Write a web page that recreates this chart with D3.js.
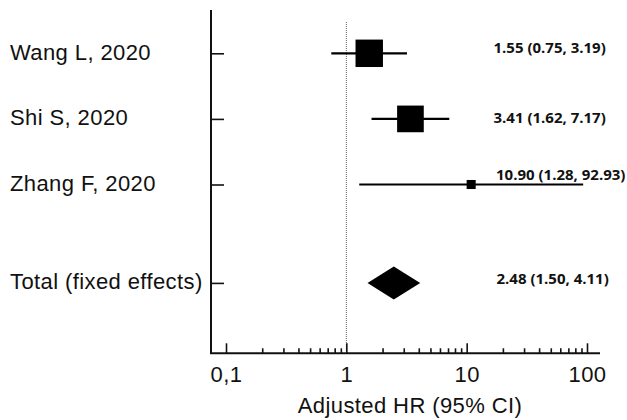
<!DOCTYPE html>
<html>
<head>
<meta charset="utf-8">
<script src="https://cdn.jsdelivr.net/npm/d3@7"></script>
<style>
  body { margin: 0; background: #fff; }
  svg { display: block; }
  .lbl { font-family: "Liberation Sans", Arial, sans-serif; font-size: 22px; letter-spacing: 0.4px; fill: #111; }
  .val { font-family: "Open Sans", sans-serif; font-weight: 700; font-size: 15px; fill: #111; }
</style>
</head>
<body>
<div id="chart"></div>
<script>
// study data
var studies = ["Wang L, 2020", "Shi S, 2020", "Zhang F, 2020"];
var hr      = [1.55, 3.41, 10.90];
var lower   = [0.75, 1.62, 1.28];
var upper   = [3.19, 7.17, 92.93];
var weights = [48.7, 46.0, 5.3];   // % weight -> square size

var totalLabel = "Total (fixed effects)";
var totalHR = 2.48, totalLo = 1.50, totalHi = 4.11;

var xTicks = [0.1, 1, 10, 100];
var xTickLabels = ["0,1", "1", "10", "100"];
var xTitle = "Adjusted HR (95% CI)";

var fmt = d3.format(".2f");

var svg = d3.select("#chart").append("svg").attr("width", 627).attr("height", 420);

var x = d3.scaleLog().domain([0.1, 100]).range([226, 587]);
// rows 1..3 for studies, 4.5 for the pooled estimate
var y = d3.scaleLinear().domain([0.34, 5.573]).range([10, 353.3]);
var size = d3.scaleSqrt().domain([0, 50]).range([0, 27.8]);

var rows = studies.map(function(d, i){ return i + 1; });
var totalRow = 4.5;

// frame
svg.append("line").attr("x1", 211).attr("x2", 211).attr("y1", y(0.34)).attr("y2", y(5.573))
    .attr("stroke", "#111").attr("stroke-width", 2);
svg.append("line").attr("x1", 210).attr("x2", 600).attr("y1", y(5.573)).attr("y2", y(5.573))
    .attr("stroke", "#111").attr("stroke-width", 2);

// reference line at HR = 1
svg.append("line").attr("x1", x(1)).attr("x2", x(1)).attr("y1", 22).attr("y2", y(5.573))
    .attr("stroke", "#666").attr("stroke-width", 1).attr("stroke-dasharray", "1,1");

// x axis: minor + major ticks
var minor = [];
[0.1, 1, 10].forEach(function(d){
    for (var k = 2; k <= 9; k++) minor.push(d * k);
});
var gx = svg.append("g").attr("transform", "translate(0," + y(5.573) + ")");
gx.append("g").call(d3.axisBottom(x).tickValues(minor).tickSize(-5).tickFormat(""));
gx.append("g").call(d3.axisBottom(x).tickValues(xTicks).tickSize(-10).tickPadding(13)
    .tickFormat(function(d, i){ return xTickLabels[i]; }));
gx.selectAll(".domain").remove();
gx.selectAll(".tick line").attr("stroke", "#111").attr("stroke-width", 1.6);
gx.selectAll(".tick text").attr("class", "lbl").attr("font-size", null).attr("font-family", null);

svg.append("text").attr("class", "lbl").attr("x", 410).attr("y", 413)
    .attr("text-anchor", "middle").text(xTitle);

// y axis ticks and labels
var yAll = rows.concat([totalRow]);
var yNames = studies.concat([totalLabel]);
var gy = svg.append("g").attr("transform", "translate(211,0)");
gy.call(d3.axisLeft(y).tickValues(yAll).tickSize(-13).tickFormat(function(d, i){ return yNames[i]; }));
gy.select(".domain").remove();
gy.selectAll(".tick line").attr("stroke", "#111").attr("stroke-width", 1.6);
gy.selectAll(".tick text").attr("class", "lbl").attr("font-size", null).attr("font-family", null)
    .attr("text-anchor", "start").attr("x", 10 - 211).attr("dy", 6);

// confidence intervals
svg.append("g").selectAll("line").data(studies).enter().append("line")
    .attr("x1", function(d, i){ return x(lower[i]); })
    .attr("x2", function(d, i){ return x(upper[i]); })
    .attr("y1", function(d, i){ return y(rows[i]); })
    .attr("y2", function(d, i){ return y(rows[i]); })
    .attr("stroke", "#000").attr("stroke-width", 2.2);

// squares
svg.append("g").selectAll("rect").data(studies).enter().append("rect")
    .attr("x", function(d, i){ return x(hr[i]) - size(weights[i]) / 2; })
    .attr("y", function(d, i){ return y(rows[i]) - size(weights[i]) / 2; })
    .attr("width", function(d, i){ return size(weights[i]); })
    .attr("height", function(d, i){ return size(weights[i]); })
    .attr("fill", "#000");

// pooled diamond
var ty = y(totalRow), h = 16.5;
svg.append("path")
    .attr("d", "M" + x(totalLo) + "," + ty + "L" + x(totalHR) + "," + (ty - h) +
               "L" + x(totalHi) + "," + ty + "L" + x(totalHR) + "," + (ty + h) + "Z")
    .attr("fill", "#000");

// value labels
var valDy = [0, 4.5, -5];
svg.append("g").selectAll("text").data(studies).enter().append("text")
    .attr("class", "val")
    .attr("x", function(d, i){ return i == 2 ? 496 : 493.5; })
    .attr("y", function(d, i){ return y(rows[i]) + valDy[i]; })
    .text(function(d, i){ return fmt(hr[i]) + " (" + fmt(lower[i]) + ", " + fmt(upper[i]) + ")"; });
svg.append("text").attr("class", "val").attr("x", 496.5).attr("y", ty + 1)
    .text(fmt(totalHR) + " (" + fmt(totalLo) + ", " + fmt(totalHi) + ")");
</script>
</body>
</html>
